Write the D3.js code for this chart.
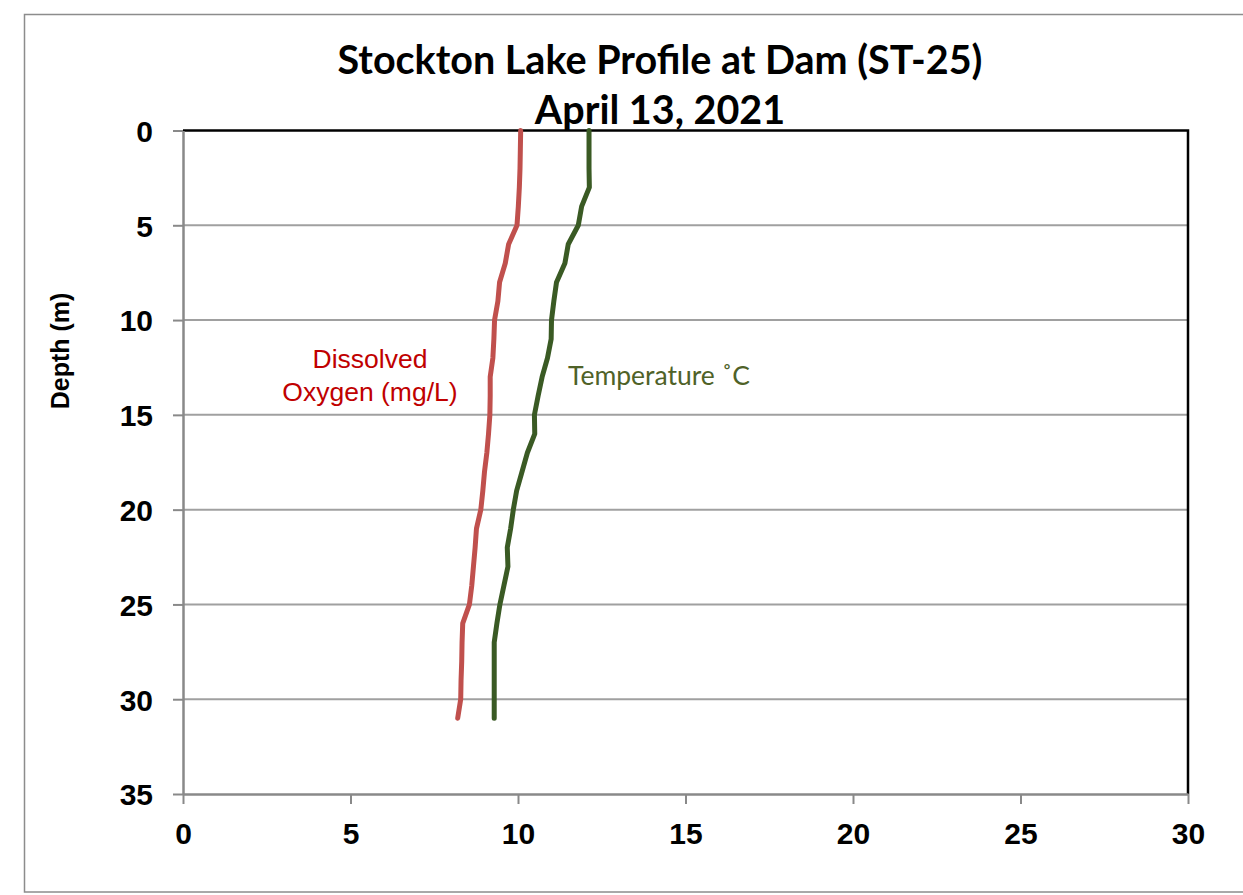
<!DOCTYPE html>
<html><head><meta charset="utf-8">
<script src="https://cdn.jsdelivr.net/npm/d3@7"></script>
<style>body{margin:0;background:#fff}svg{display:block}</style>
</head><body>
<script>
const titleLines = ["Stockton Lake Profile at Dam (ST-25)", "April 13, 2021"];
const yAxisLabel = "Depth (m)";
const xTicks = [0, 5, 10, 15, 20, 25, 30];
const yTicks = [0, 5, 10, 15, 20, 25, 30, 35];
const depths = [0,1,2,3,4,5,6,7,8,9,10,11,12,13,14,15,16,17,18,19,20,21,22,23,24,25,26,27,28,29,30,31];
const dissolvedOxygen = [10.08,10.07,10.06,10.04,10.01,9.97,9.72,9.62,9.45,9.40,9.30,9.28,9.25,9.17,9.17,9.16,9.12,9.07,9.00,8.95,8.89,8.76,8.72,8.67,8.62,8.55,8.35,8.33,8.32,8.30,8.29,8.20];
const temperature = [12.12,12.12,12.12,12.13,11.90,11.80,11.50,11.40,11.15,11.07,11.00,10.99,10.88,10.72,10.60,10.49,10.50,10.28,10.12,9.96,9.86,9.78,9.68,9.70,9.58,9.46,9.37,9.29,9.29,9.29,9.29,9.29];
const seriesLabels = [["Dissolved", "Oxygen (mg/L)"], ["Temperature ˚C"]];

const W = 1243, H = 895;
const svg = d3.select("body").append("svg").attr("width", W).attr("height", H);
// outer frame
svg.append("rect").attr("x", 24.5).attr("y", 14.5).attr("width", 1240).attr("height", 877.5)
  .attr("fill", "none").attr("stroke", "#8c8c8c").attr("stroke-width", 1.5);

const L = 183, R = 1188, T = 130.5, B = 794;
const x = d3.scaleLinear().domain([0, 30]).range([L, R]);
const y = d3.scaleLinear().domain([0, 35]).range([T, B]);

// gridlines
svg.append("g").selectAll("line").data(yTicks.filter(d => d > 0 && d < 35)).join("line")
  .attr("x1", L).attr("x2", R).attr("y1", d => y(d)).attr("y2", d => y(d))
  .attr("stroke", "#a0a0a0").attr("stroke-width", 2);

// top & right border (black)
svg.append("path").attr("d", `M${L},${T}H${R}V${B}`).attr("fill", "none").attr("stroke", "#000").attr("stroke-width", 2.5);

// axes
const yAxis = d3.axisLeft(y).tickValues(yTicks).tickSize(10).tickSizeOuter(0).tickPadding(20);
const gy = svg.append("g").attr("transform", `translate(${L},0)`).call(yAxis);
const xAxis = d3.axisBottom(x).tickValues(xTicks).tickSize(10).tickSizeOuter(0).tickPadding(19);
const gx = svg.append("g").attr("transform", `translate(0,${B})`).call(xAxis);
[gx, gy].forEach(g => {
  g.select(".domain").attr("stroke", "#898989").attr("stroke-width", 2.5);
  g.selectAll(".tick line").attr("stroke", "#898989").attr("stroke-width", 2);
  g.selectAll(".tick text").attr("font-family", "Liberation Sans, Arial, sans-serif")
    .attr("font-weight", "bold").attr("font-size", 30).attr("fill", "#000");
});
gy.selectAll(".tick text").attr("dy", "0.36em");
gx.selectAll(".tick text").attr("dy", "0.71em");

// y label
svg.append("text").attr("transform", "translate(69,351) rotate(-90)").attr("text-anchor", "middle")
  .attr("font-family", "Liberation Sans, Arial, sans-serif").attr("font-weight", "bold").attr("font-size", 25)
  .text(yAxisLabel);

// title
svg.append("g").selectAll("text").data(titleLines).join("text")
  .attr("x", 660).attr("y", (d, i) => 74 + i * 50).attr("text-anchor", "middle")
  .attr("font-family", "Lato, sans-serif").attr("font-weight", "bold").attr("font-size", 39.5).attr("fill", "#000")
  .text(d => d);

// lines
const doLine = d3.line().x((d, i) => x(d)).y((d, i) => y(depths[i]));
svg.append("path").attr("d", doLine(dissolvedOxygen)).attr("fill", "none")
  .attr("stroke", "#c0504d").attr("stroke-width", 5).attr("stroke-linecap", "round").attr("stroke-linejoin", "round");
svg.append("path").attr("d", doLine(temperature)).attr("fill", "none")
  .attr("stroke", "#3a5a24").attr("stroke-width", 5).attr("stroke-linecap", "round").attr("stroke-linejoin", "round");

// series labels
svg.append("g").selectAll("text").data(seriesLabels[0]).join("text")
  .attr("x", 370).attr("y", (d, i) => 368 + i * 33).attr("text-anchor", "middle")
  .attr("font-family", "Liberation Sans, Arial, sans-serif").attr("font-size", 26.5).attr("fill", "#c00000")
  .text(d => d);
svg.append("text").attr("x", 568).attr("y", 385)
  .attr("font-family", "Lato, sans-serif").attr("font-size", 26.5).attr("fill", "#4f6228")
  .text(seriesLabels[1][0]);
</script>
</body></html>
